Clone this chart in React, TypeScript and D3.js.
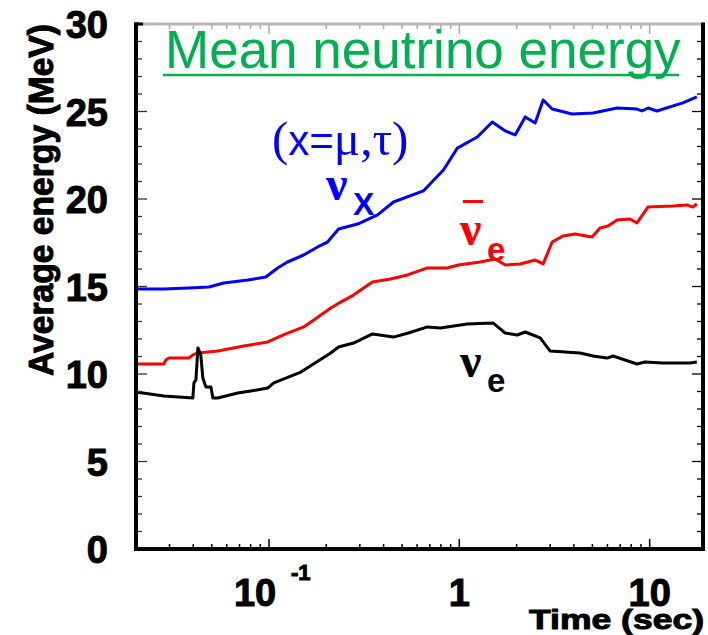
import React, { useEffect } from 'react';
import * as d3 from 'd3';

// Mean energy (MeV) of each neutrino flavour versus time after bounce (s)
const nuXTime = [0.0205, 0.028, 0.0379, 0.0483, 0.0579, 0.0773, 0.0961, 0.111, 0.125, 0.152, 0.18, 0.203, 0.232, 0.292, 0.372, 0.451, 0.647, 0.825, 0.976, 1.243, 1.489, 1.743, 1.966, 2.219, 2.503, 2.757, 3.074, 3.913, 5.042, 6.737, 8.58, 9.111, 9.797, 10.92, 14.95, 17.7];
const nuXEnergy = [14.86, 14.86, 14.91, 14.97, 15.2, 15.37, 15.54, 16.06, 16.4, 16.8, 17.26, 17.54, 18.29, 18.57, 19.09, 19.83, 20.46, 21.66, 22.91, 23.54, 24.4, 23.89, 23.66, 24.69, 24.34, 25.66, 25.14, 24.86, 24.91, 25.2, 25.14, 25.03, 25.2, 25.03, 25.49, 25.83];

const antiNuETime = [0.0205, 0.028, 0.0287, 0.0298, 0.0379, 0.0398, 0.0423, 0.0538, 0.0737, 0.0985, 0.119, 0.152, 0.172, 0.211, 0.238, 0.278, 0.314, 0.35, 0.435, 0.534, 0.68, 0.865, 0.988, 1.289, 1.545, 1.743, 2.089, 2.503, 2.757, 3.074, 3.511, 4.058, 4.982, 5.489, 6.043, 6.737, 7.884, 8.58, 9.797, 13.25, 15.69, 16.87, 17.7];
const antiNuEEnergy = [10.57, 10.57, 10.8, 10.91, 10.91, 11.09, 11.2, 11.31, 11.6, 11.83, 12.23, 12.69, 13.09, 13.77, 14.11, 14.51, 14.91, 15.26, 15.43, 15.66, 16.06, 16.06, 16.23, 16.4, 16.57, 16.23, 16.29, 16.51, 16.29, 17.54, 17.89, 18.0, 17.83, 18.34, 18.46, 18.8, 18.86, 18.63, 19.54, 19.6, 19.66, 19.54, 19.71];

const nuETime = [0.02, 0.028, 0.0398, 0.0403, 0.0413, 0.0423, 0.0438, 0.0449, 0.0466, 0.0495, 0.0507, 0.0538, 0.0685, 0.0802, 0.0985, 0.106, 0.147, 0.211, 0.232, 0.278, 0.35, 0.451, 0.54, 0.68, 0.795, 1.101, 1.508, 1.743, 2.014, 2.219, 2.66, 3.0, 4.31, 5.042, 5.971, 6.42, 8.58, 9.45, 11.74, 16.27, 17.7];
const nuEEnergy = [8.97, 8.74, 8.63, 9.49, 9.66, 11.49, 11.09, 9.77, 9.26, 9.26, 8.63, 8.63, 8.91, 9.03, 9.2, 9.49, 10.11, 11.2, 11.54, 11.77, 12.29, 12.11, 12.34, 12.69, 12.63, 12.86, 12.91, 12.34, 12.23, 12.4, 12.06, 11.31, 11.2, 11.03, 10.91, 11.03, 10.57, 10.69, 10.63, 10.63, 10.69];

const yTickValues = [0, 5, 10, 15, 20, 25, 30];
const xTickValues = [0.1, 1, 10];
const xTickBase = ['10', '1', '10'];
const xTickExponent = ['-1', '', ''];

const SANS = "'Liberation Sans', Arial, Helvetica, sans-serif";
const SERIF = "'Liberation Serif', 'Times New Roman', serif";

// heavy type for axis numbers and titles
const heavy = { fontFamily: SANS, fontWeight: 'bold' as const, fill: '#000', stroke: '#000', strokeWidth: 1, paintOrder: 'stroke' as const };

export default function App() {
  useEffect(() => {
    document.body.style.margin = '0';
  }, []);

  const W = 708;
  const H = 635;
  const x = d3.scaleLog().domain([0.02, 19.3]).range([136, 704]);
  const y = d3.scaleLinear().domain([0, 30]).range([549, 24]);
  const line = d3
    .line<[number, number]>()
    .x((d) => x(d[0]))
    .y((d) => y(d[1]));

  const pairs = (t: number[], e: number[]) => t.map((v, i) => [v, e[i]] as [number, number]);

  // log-scale tick positions: 1..9 × 10^k inside the domain
  const [d0, d1] = x.domain();
  const xTicks: { v: number; major: boolean }[] = [];
  for (let k = -2; k <= 1; k++) {
    for (let m = 1; m <= 9; m++) {
      const v = m * Math.pow(10, k);
      if (v > d0 * 1.01 && v < d1) xTicks.push({ v, major: m === 1 });
    }
  }
  const yTicks = d3.range(1, 30).map((v) => ({ v, major: v % 5 === 0 }));

  const left = 136;
  const right = 703;
  const top = 24;
  const bottom = 549;

  return (
    <svg
      width={W}
      height={H}
      viewBox={`0 0 ${W} ${H}`}
      style={{ position: 'fixed', left: 0, top: 0, background: '#fff' }}
    >
      <rect x={0} y={0} width={W} height={H} fill="#fff" />

      {/* series */}
      <path d={line(pairs(nuXTime, nuXEnergy)) || ''} fill="none" stroke="#0000ff" strokeWidth={3} strokeLinejoin="round" />
      <path d={line(pairs(antiNuETime, antiNuEEnergy)) || ''} fill="none" stroke="#ff0000" strokeWidth={3} strokeLinejoin="round" />
      <path d={line(pairs(nuETime, nuEEnergy)) || ''} fill="none" stroke="#000" strokeWidth={3} strokeLinejoin="round" />

      {/* frame */}
      <line x1={left} x2={right} y1={top} y2={top} stroke="#b8b8b8" strokeWidth={3} />
      <line x1={left - 2} x2={left + 7} y1={top} y2={top} stroke="#000" strokeWidth={3} />
      <line x1={left} x2={left} y1={top - 1.5} y2={bottom + 2} stroke="#000" strokeWidth={4} />
      <line x1={right} x2={right} y1={top - 1.5} y2={bottom + 2} stroke="#000" strokeWidth={4} />
      <line x1={left - 2} x2={right + 2} y1={bottom} y2={bottom} stroke="#000" strokeWidth={4} />

      {/* x ticks, bottom and top */}
      {xTicks.map((t, i) => (
        <g key={`xt${i}`}>
          <line x1={x(t.v)} x2={x(t.v)} y1={bottom - 1} y2={bottom - (t.major ? 10 : 5)} stroke="#000" strokeWidth={1.5} />
          <line x1={x(t.v)} x2={x(t.v)} y1={top + 1} y2={top + (t.major ? 10 : 5)} stroke="#aaa" strokeWidth={1.5} />
        </g>
      ))}

      {/* y ticks, left and right */}
      {yTicks.map((t, i) => (
        <g key={`yt${i}`}>
          <line x1={left + 1} x2={left + (t.major ? 11 : 6)} y1={y(t.v)} y2={y(t.v)} stroke="#333" strokeWidth={1.3} />
          <line x1={right - 1} x2={right - (t.major ? 11 : 6)} y1={y(t.v)} y2={y(t.v)} stroke="#000" strokeWidth={1.3} />
        </g>
      ))}

      {/* y tick labels */}
      {yTickValues.map((v) => (
        <text key={`yl${v}`} x={108} y={y(v) + 14} textAnchor="end" fontSize={38} {...heavy}>
          {v}
        </text>
      ))}

      {/* x tick labels */}
      {xTickValues.map((v, i) =>
        xTickExponent[i] ? (
          <g key={`xl${i}`}>
            <text x={x(v) - 14} y={606} textAnchor="middle" fontSize={38} {...heavy}>
              {xTickBase[i]}
            </text>
            <text x={x(v) + 22} y={580} fontSize={22} {...heavy}>
              {xTickExponent[i]}
            </text>
          </g>
        ) : (
          <text key={`xl${i}`} x={x(v)} y={606} textAnchor="middle" fontSize={38} {...heavy}>
            {xTickBase[i]}
          </text>
        )
      )}

      {/* axis titles */}
      <text x={529} y={629} fontSize={28.5} textLength={175} lengthAdjust="spacingAndGlyphs" {...heavy}>
        Time (sec)
      </text>
      <text
        transform="translate(53,200) rotate(-90)"
        textAnchor="middle"
        fontSize={35}
        textLength={352}
        lengthAdjust="spacingAndGlyphs"
        {...heavy}
      >
        Average energy (MeV)
      </text>

      {/* title */}
      <text x={165} y={68} fontFamily={SANS} fontSize={53} fill="#00b050">
        Mean neutrino energy
      </text>
      <line x1={163} x2={679} y1={75} y2={75} stroke="#00b050" strokeWidth={2.5} />

      {/* series labels */}
      <text x={272} y={155} fill="#0000ff" fontFamily={SERIF} fontSize={49}>
        (<tspan fontFamily={SANS} fontSize={42}>x=</tspan>μ,τ)
      </text>
      <text x={326} y={200} fill="#0000ff" fontFamily={SERIF} fontWeight="bold" fontSize={48}>
        ν
      </text>
      <text x={353} y={215} fill="#0000ff" fontFamily={SANS} fontWeight="bold" fontSize={32}>
        X
      </text>

      <line x1={463} x2={483} y1={201.5} y2={201.5} stroke="#ff0000" strokeWidth={3} />
      <text x={460} y={245} fill="#ff0000" fontFamily={SERIF} fontWeight="bold" fontSize={48}>
        ν
      </text>
      <text x={487} y={261} fill="#ff0000" fontFamily={SANS} fontWeight="bold" fontSize={33}>
        e
      </text>

      <text x={460} y={377} fill="#000" fontFamily={SERIF} fontWeight="bold" fontSize={48}>
        ν
      </text>
      <text x={487} y={392} fill="#000" fontFamily={SANS} fontWeight="bold" fontSize={33}>
        e
      </text>
    </svg>
  );
}
